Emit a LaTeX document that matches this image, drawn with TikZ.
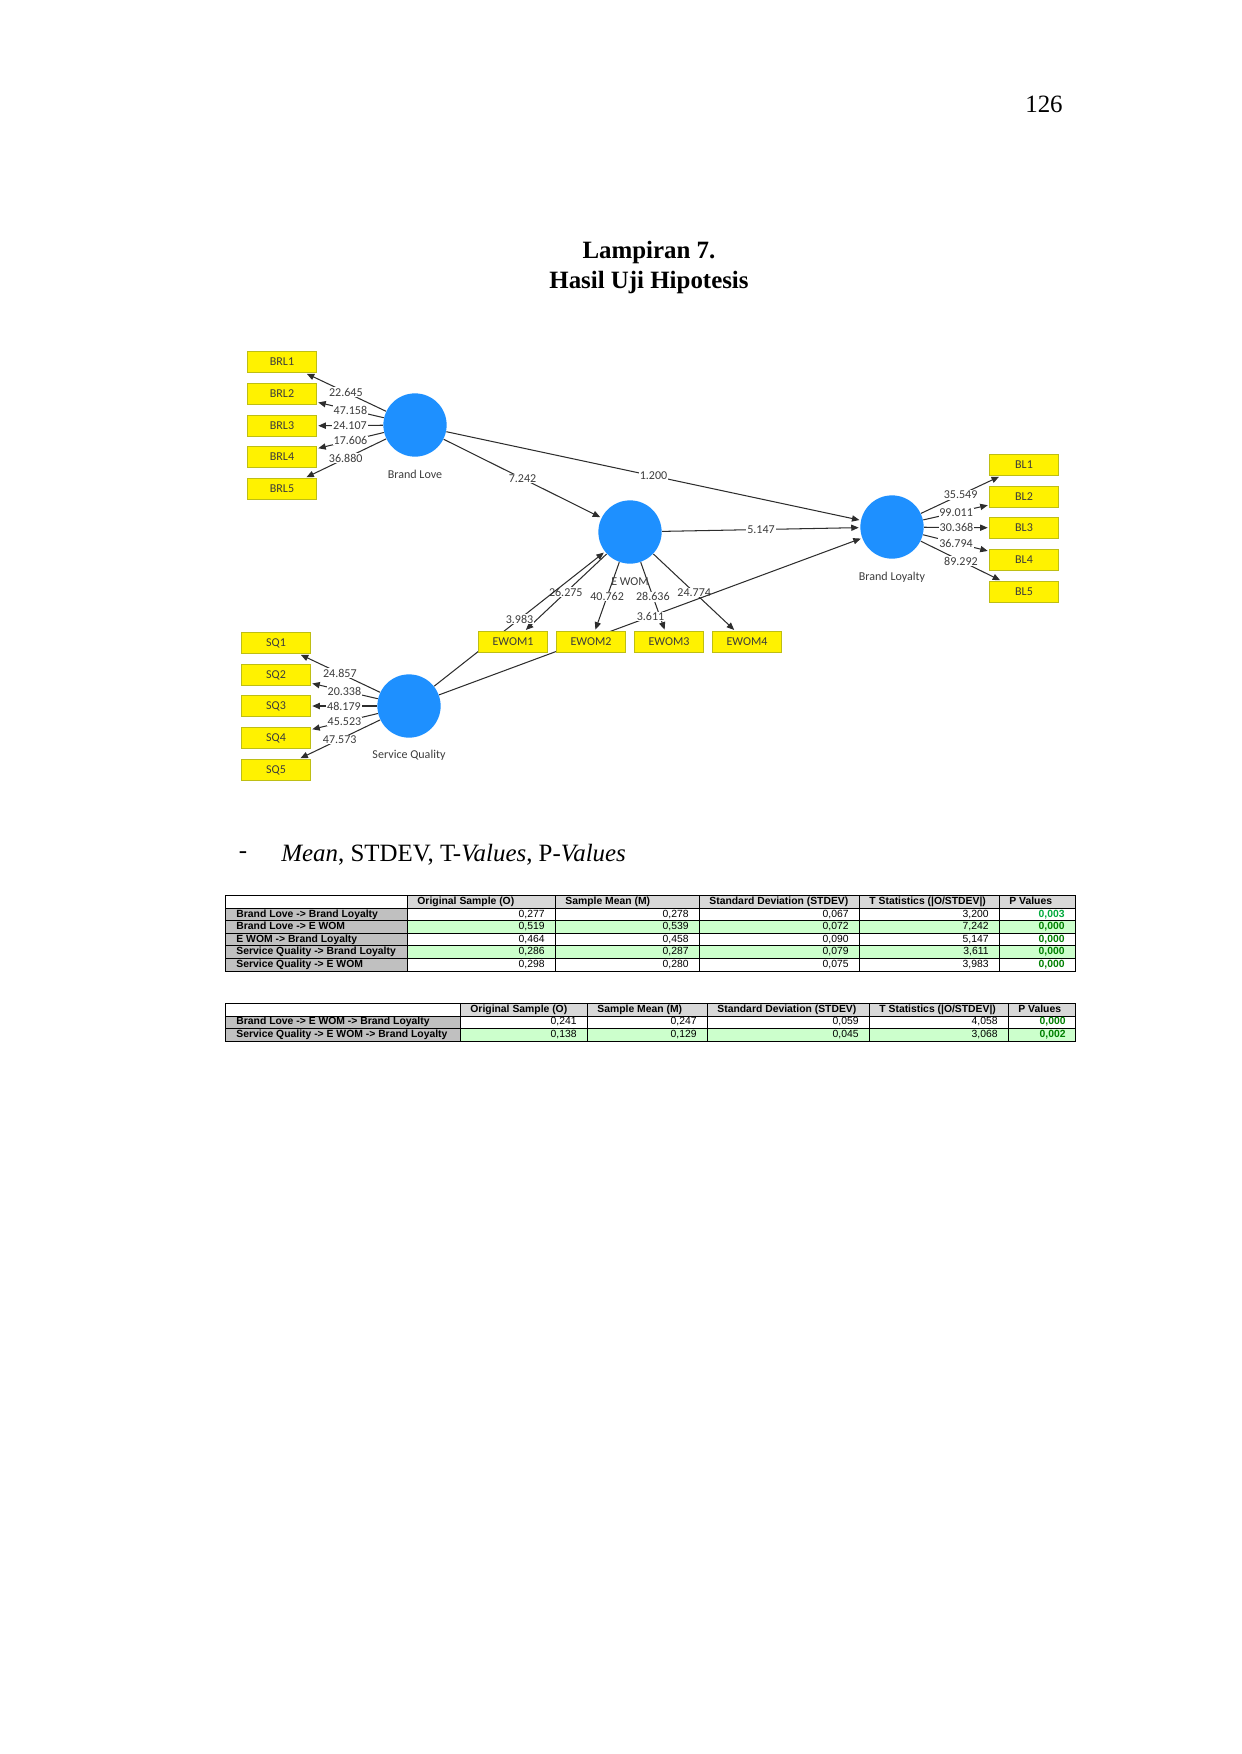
\documentclass[tikz,border=0pt]{standalone}
\usepackage{fontspec}
\setmainfont{Liberation Serif}
\newfontfamily\plsfont{Carlito}
\newfontfamily\tabfont{Liberation Sans}
\usetikzlibrary{arrows.meta,positioning,backgrounds}

\definecolor{lvblue}{RGB}{30,144,255}
\definecolor{mvedge}{RGB}{190,190,20}
\definecolor{linegray}{RGB}{45,45,45}
\definecolor{txtgray}{RGB}{60,60,60}
\definecolor{hdgray}{RGB}{216,216,216}
\definecolor{rowgray}{RGB}{192,192,192}
\definecolor{rowgreen}{RGB}{204,255,204}
\definecolor{pgreen}{RGB}{0,128,0}
\definecolor{pgreenlt}{RGB}{0,170,60}

\tikzset{
  lv/.style={circle, fill=lvblue, minimum size=30.5pt, inner sep=0pt},
  lvlabel/.style={font=\plsfont\fontsize{5.8}{6}\selectfont, text=txtgray, inner sep=0.5pt, text height=4pt, text depth=1pt},
  mv/.style={rectangle, draw=mvedge, fill=yellow, minimum width=33.4pt, minimum height=10.4pt, inner sep=0pt,
    font=\plsfont\fontsize{5.8}{6}\selectfont, text=txtgray},
  pth/.style={draw=linegray, line width=0.5pt, shorten >=0.6pt, -{Triangle[length=3.6pt,width=3pt]}},
  val/.style={midway, fill=white, inner sep=0.4pt, font=\plsfont\fontsize{5.8}{6}\selectfont, text=txtgray},
  cell/.style={draw=black, line width=0.4pt},
  hdtxt/.style={anchor=west, inner sep=0pt, font=\tabfont\bfseries\fontsize{5}{6}\selectfont, text height=3.6pt, text depth=1pt},
  rowtxt/.style={anchor=west, inner sep=0pt, font=\tabfont\bfseries\fontsize{5}{6}\selectfont, text height=3.6pt, text depth=1pt},
  numtxt/.style={anchor=east, inner sep=0pt, font=\tabfont\fontsize{5}{6}\selectfont, text height=3.6pt, text depth=1pt},
  pvtxt/.style={anchor=east, inner sep=0pt, font=\tabfont\bfseries\fontsize{5}{6}\selectfont, text height=3.6pt, text depth=1pt},
}

\begin{document}
\begin{tikzpicture}[x=0.016933cm, y=-0.016933cm]
  \useasboundingbox (0,0) rectangle (1241,1754);

  \node (pnum) at (1044,104) {\fontsize{12}{14}\selectfont 126};
  \node[align=center, font=\bfseries\fontsize{12}{14}\selectfont] (title) at (649,267.5) {Lampiran 7.\\Hasil Uji Hipotesis};

  % latent variables
  \node[lv] (blove) at (415,425) {};
  \node[lv] (ewom) at (630,532) {};
  \node[lv] (bloyal) at (892,527) {};
  \node[lv] (squal) at (409,706) {};
  \node[lvlabel, below=5.5pt of blove] (tblove) {Brand Love};
  \node[lvlabel, below=5.8pt of ewom] (tewom) {E WOM};
  \node[lvlabel, below=5.8pt of bloyal] (tbloyal) {Brand Loyalty};
  \node[lvlabel, below=5.3pt of squal] (tsqual) {Service Quality};

  % indicators
  \foreach \i/\y in {1/362,2/394,3/426,4/457,5/489}
    \node[mv] (brl\i) at (282,\y) {BRL\i};
  \foreach \i/\y in {1/643,2/675,3/706,4/738,5/770}
    \node[mv] (sq\i) at (276,\y) {SQ\i};
  \foreach \i/\y in {1/465,2/497,3/528,4/560,5/592}
    \node[mv] (bl\i) at (1024,\y) {BL\i};
  \foreach \i/\x in {1/513,2/591,3/669,4/747}
    \node[mv] (ewom\i) at (\x,642) {EWOM\i};

  \begin{scope}[on background layer]
    \foreach \i/\t in {1/22.645,2/47.158,3/24.107,4/17.606,5/36.880}
      \draw[pth] (blove) -- (brl\i) node[val] (vbrl\i) {\t};
    \foreach \i/\t in {1/24.857,2/20.338,3/48.179,4/45.523,5/47.573}
      \draw[pth] (squal) -- (sq\i) node[val] (vsq\i) {\t};
    \foreach \i/\t in {1/35.549,2/99.011,3/30.368,4/36.794,5/89.292}
      \draw[pth] (bloyal) -- (bl\i) node[val] (vbl\i) {\t};
    \foreach \i/\t in {1/26.275,2/40.762,3/28.636,4/24.774}
      \draw[pth] (ewom) -- (ewom\i) node[val] (vewom\i) {\t};

    \draw[pth] (blove) -- (ewom) node[val] (vp1) {7.242};
    \draw[pth] (blove) -- (bloyal) node[val] (vp2) {1.200};
    \draw[pth] (ewom) -- (bloyal) node[val] (vp3) {5.147};
    \draw[pth] (squal) -- (ewom) node[val] (vp4) {3.983};
    \draw[pth] (squal) -- (bloyal) node[val] (vp5) {3.611};
  \end{scope}

  \node (dash) at (243,855) {\fontsize{12}{14}\selectfont -};
  \node[anchor=west, inner sep=0pt] (subttl) at (281,855) {\fontsize{12}{14}\selectfont \textit{Mean}, STDEV, T-\textit{Values}, P-\textit{Values}};

  % table 1
  \draw[cell, fill=white] (225,895) rectangle (407,908);
  \foreach \xa/\xb/\t [count=\k] in {407/555/{Original Sample (O)},555/699/{Sample Mean (M)},699/859/{Standard Deviation (STDEV)},859/999/{T Statistics (|O/STDEV|)},999/1075/{P Values}}
  {
    \draw[cell, fill=hdgray] (\xa,895) rectangle (\xb,908);
    \node[hdtxt] (ha\k) at (\xa+10,901.5) {\t};
  }
  \foreach \lab/\va/\vb/\vc/\vd/\vp/\fc/\pc [count=\r] in {
    {Brand Love -> Brand Loyalty}/{0,277}/{0,278}/{0,067}/{3,200}/{0,003}/white/pgreenlt,
    {Brand Love -> E WOM}/{0,519}/{0,539}/{0,072}/{7,242}/{0,000}/rowgreen/pgreen,
    {E WOM -> Brand Loyalty}/{0,464}/{0,458}/{0,090}/{5,147}/{0,000}/white/pgreen,
    {Service Quality -> Brand Loyalty}/{0,286}/{0,287}/{0,079}/{3,611}/{0,000}/rowgreen/pgreen,
    {Service Quality -> E WOM}/{0,298}/{0,280}/{0,075}/{3,983}/{0,000}/white/pgreen}
  {
    \pgfmathsetmacro\ya{908+(\r-1)*12.6}
    \pgfmathsetmacro\ym{\ya+6.3}
    \pgfmathsetmacro\yb{\ya+12.6}
    \draw[cell, fill=rowgray] (225,\ya) rectangle (407,\yb);
    \foreach \xa/\xb in {407/555,555/699,699/859,859/999,999/1075}
      \draw[cell, fill=\fc] (\xa,\ya) rectangle (\xb,\yb);
    \node[rowtxt] (ta\r) at (236,\ym) {\lab};
    \node[numtxt] (tao\r) at (545,\ym) {\va};
    \node[numtxt] (tam\r) at (689,\ym) {\vb};
    \node[numtxt] (tas\r) at (849,\ym) {\vc};
    \node[numtxt] (tat\r) at (989,\ym) {\vd};
    \node[pvtxt, text=\pc] (tap\r) at (1065,\ym) {\vp};
  }

  % table 2
  \draw[cell, fill=white] (225,1003) rectangle (460,1016);
  \foreach \xa/\xb/\t [count=\k] in {460/587/{Original Sample (O)},587/707/{Sample Mean (M)},707/869/{Standard Deviation (STDEV)},869/1008/{T Statistics (|O/STDEV|)},1008/1075/{P Values}}
  {
    \draw[cell, fill=hdgray] (\xa,1003) rectangle (\xb,1016);
    \node[hdtxt] (hb\k) at (\xa+10,1009.5) {\t};
  }
  \foreach \lab/\va/\vb/\vc/\vd/\vp/\fc [count=\r] in {
    {Brand Love -> E WOM -> Brand Loyalty}/{0,241}/{0,247}/{0,059}/{4,058}/{0,000}/white,
    {Service Quality -> E WOM -> Brand Loyalty}/{0,138}/{0,129}/{0,045}/{3,068}/{0,002}/rowgreen}
  {
    \pgfmathsetmacro\ya{1016+(\r-1)*12.5}
    \pgfmathsetmacro\ym{\ya+6.25}
    \pgfmathsetmacro\yb{\ya+12.5}
    \draw[cell, fill=rowgray] (225,\ya) rectangle (460,\yb);
    \foreach \xa/\xb in {460/587,587/707,707/869,869/1008,1008/1075}
      \draw[cell, fill=\fc] (\xa,\ya) rectangle (\xb,\yb);
    \node[rowtxt] (tb\r) at (236,\ym) {\lab};
    \node[numtxt] (tbo\r) at (577,\ym) {\va};
    \node[numtxt] (tbm\r) at (697,\ym) {\vb};
    \node[numtxt] (tbs\r) at (859,\ym) {\vc};
    \node[numtxt] (tbt\r) at (998,\ym) {\vd};
    \node[pvtxt, text=pgreen] (tbp\r) at (1066,\ym) {\vp};
  }
\end{tikzpicture}
\end{document}
